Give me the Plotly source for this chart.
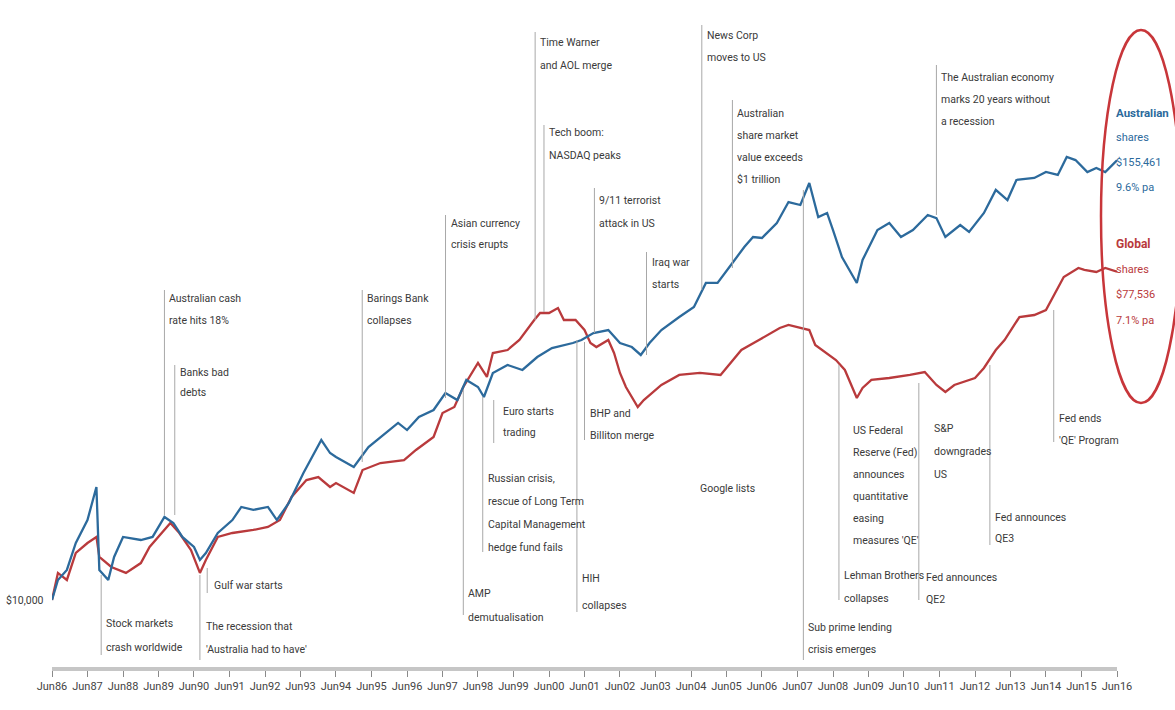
import plotly.graph_objects as go

# Growth of $10,000 (log scale), Australian vs global shares
aus_dates = [
    "1986-06", "1986-08", "1986-11", "1987-02", "1987-06", "1987-09", "1987-10", "1988-01",
    "1988-03", "1988-06", "1988-12", "1989-04", "1989-08", "1989-11", "1990-02", "1990-06",
    "1990-08", "1990-10", "1991-02", "1991-07", "1991-10", "1992-02", "1992-07", "1992-10",
    "1993-02", "1993-07", "1994-01", "1994-04", "1994-06", "1994-12", "1995-05", "1995-11",
    "1996-03", "1996-06", "1996-10", "1997-03", "1997-07", "1997-11", "1998-02", "1998-06",
    "1998-08", "1998-11", "1999-04", "1999-09", "2000-02", "2000-07", "2001-02", "2001-05",
    "2001-09", "2002-02", "2002-06", "2002-10", "2003-01", "2003-04", "2003-08", "2004-02",
    "2004-07", "2004-11", "2005-03", "2005-08", "2005-12", "2006-03", "2006-06", "2006-11",
    "2007-03", "2007-07", "2007-10", "2008-01", "2008-04", "2008-06", "2008-09", "2009-02",
    "2009-04", "2009-09", "2010-01", "2010-05", "2010-09", "2011-02", "2011-05", "2011-08",
    "2012-01", "2012-04", "2012-09", "2013-01", "2013-05", "2013-08", "2014-02", "2014-06",
    "2014-10", "2015-01", "2015-04", "2015-08", "2015-11", "2016-02", "2016-06",
]
aus_values = [
    10000, 11330, 12060, 14270, 16470, 20240, 12060, 11330,
    13080, 14820, 14540, 14820, 16790, 16170, 14820, 13920,
    12840, 13410, 15190, 16470, 17870, 17540, 17870, 16470,
    18320, 22090, 27140, 25020, 24400, 22940, 25980, 28360,
    30180, 28880, 31330, 32730, 36390, 34830, 39470, 37780,
    35490, 41230, 43340, 42010, 45550, 48180, 49710, 50650,
    52910, 53910, 49710, 48480, 46130, 49710, 53910, 58460,
    62230, 72310, 72310, 81900, 90500, 96320, 95720, 105100,
    119800, 117600, 134900, 109100, 111900, 100600, 85020, 72310,
    83450, 100600, 105100, 96320, 100600, 110500, 108400, 96320,
    103800, 99380, 111900, 129200, 121300, 137500, 139200, 144500,
    141900, 158700, 155700, 144500, 148200, 144500, 155461,
]

glob_dates = [
    "1986-06", "1986-08", "1986-11", "1987-02", "1987-06", "1987-09", "1987-10", "1988-02",
    "1988-07", "1988-12", "1989-03", "1989-06", "1989-10", "1990-01", "1990-05", "1990-08",
    "1990-10", "1991-02", "1991-07", "1992-02", "1992-07", "1992-11", "1993-03", "1993-08",
    "1993-12", "1994-04", "1994-06", "1994-12", "1995-03", "1995-09", "1996-05", "1996-09",
    "1997-03", "1997-06", "1997-10", "1998-01", "1998-06", "1998-09", "1998-11", "1999-04",
    "1999-08", "2000-01", "2000-03", "2000-06", "2000-09", "2000-11", "2001-03", "2001-06",
    "2001-08", "2001-10", "2002-02", "2002-04", "2002-06", "2002-08", "2002-12", "2003-02",
    "2003-08", "2004-02", "2004-09", "2005-04", "2005-11", "2006-05", "2006-12", "2007-03",
    "2007-10", "2007-12", "2008-07", "2008-10", "2009-02", "2009-04", "2009-07", "2010-01",
    "2010-08", "2011-01", "2011-05", "2011-08", "2011-11", "2012-06", "2012-09", "2013-01",
    "2013-04", "2013-09", "2014-02", "2014-06", "2014-12", "2015-05", "2015-07", "2015-11",
    "2016-02", "2016-06",
]
glob_values = [
    10000, 11840, 11330, 13410, 14270, 14820, 13080, 12290,
    11840, 12590, 13920, 14820, 16170, 15190, 13660, 11840,
    12840, 14820, 15190, 15480, 15770, 16470, 19020, 21140,
    21540, 20240, 20750, 19500, 22500, 23510, 23950, 25500,
    27650, 32120, 33340, 37780, 43880, 40210, 46700, 47580,
    50650, 57380, 59950, 59950, 61840, 57380, 57380, 53910,
    49710, 48480, 50650, 46700, 41230, 37780, 33340, 34830,
    38250, 40720, 41230, 40720, 47580, 50650, 54590, 55630,
    53910, 49090, 44700, 42010, 35270, 37540, 39470, 39960,
    40720, 41480, 38250, 36610, 38250, 39960, 42540, 47580,
    50650, 58460, 59200, 61070, 75060, 79400, 78420, 77440,
    79400, 77536,
]

tick_dates = [f"{y}-06-01" for y in range(1986, 2017)]
tick_labels = [
    "Jun86", "Jun87", "Jun88", "Jun89", "Jun90", "Jun91", "Jun92", "Jun93", "Jun94", "Jun95",
    "Jun96", "Jun97", "Jun98", "Jun99", "Jun00", "Jun01", "Jun02", "Jun03", "Jun04", "Jun05",
    "Jun06", "Jun07", "Jun08", "Jun09", "Jun10", "Jun11", "Jun12", "Jun13", "Jun14", "Jun15",
    "Jun16",
]

# Market events: date, label lines
events = [
    ("1987-10-20", ["Stock markets", "crash worldwide"]),
    ("1989-08-01", ["Australian cash", "rate hits 18%"]),
    ("1989-11-15", ["Banks bad", "debts"]),
    ("1990-10-15", ["Gulf war starts"]),
    ("1990-08-01", ["The recession that", "'Australia had to have'"]),
    ("1995-02-26", ["Barings Bank", "collapses"]),
    ("1997-07-02", ["Asian currency", "crisis erupts"]),
    ("1998-01-01", ["AMP", "demutualisation"]),
    ("1998-07-20", ["Russian crisis,", "rescue of Long Term", "Capital Management", "hedge fund fails"]),
    ("1998-11-10", ["Euro starts", "trading"]),
    ("2000-01-10", ["Time Warner", "and AOL merge"]),
    ("2000-04-10", ["Tech boom:", "NASDAQ peaks"]),
    ("2001-03-15", ["HIH", "collapses"]),
    ("2001-06-01", ["BHP and", "Billiton merge"]),
    ("2001-09-11", ["9/11 terrorist", "attack in US"]),
    ("2003-03-01", ["Iraq war", "starts"]),
    ("2004-09-20", ["News Corp", "moves to US"]),
    ("2005-08-01", ["Australian", "share market", "value exceeds", "$1 trillion"]),
    ("2007-08-01", ["Sub prime lending", "crisis emerges"]),
    ("2008-08-01", ["Lehman Brothers", "collapses"]),
    ("2008-08-01", ["US Federal", "Reserve (Fed)", "announces", "quantitative", "easing", "measures 'QE'"]),
    ("2010-11-01", ["Fed announces", "QE2"]),
    ("2010-11-01", ["S&P", "downgrades", "US"]),
    ("2011-05-01", ["The Australian economy", "marks 20 years without", "a recession"]),
    ("2012-11-01", ["Fed announces", "QE3"]),
    ("2014-08-20", ["Fed ends", "'QE' Program"]),
]
google_label = "Google lists"
google_date = "2004-08-19"

# Placement (pixels): leader top/bottom, text x offset, first line y, line step
placement = [
    (575, 655, 3, 623, 24),
    (290, 515, 3, 298, 22),
    (365, 515, 3, 372, 20),
    (568, 593, 5, 585, 22),
    (575, 660, 4, 626, 23),
    (290, 462, 3, 298, 22),
    (215, 398, 3, 223, 21),
    (390, 615, 3, 593, 24),
    (397, 552, 3, 478, 23),
    (400, 443, 7, 411, 21),
    (32, 320, 3, 42, 23),
    (125, 312, 3, 132, 23),
    (340, 612, 3, 578, 27),
    (342, 440, 3, 413, 22),
    (188, 333, 3, 200, 23),
    (252, 355, 3, 262, 22),
    (25, 290, 3, 35, 22),
    (100, 268, 3, 113, 22),
    (190, 660, 3, 627, 22),
    (365, 600, 3, 575, 23),
    (None, None, 12, 430, 22),
    (383, 600, 5, 577, 22),
    (None, None, 13, 428, 23),
    (65, 215, 3, 77, 22),
    (365, 545, 3, 517, 21),
    (310, 442, 3, 418, 22),
]

L, R, T, B = 52, 58, 10, 43
W, H = 1175, 710
plot_h = H - T - B
plot_w = W - L - R


def py(pix):
    return (H - B - pix) / plot_h


def px(pix):
    return (pix - L) / plot_w


FONT = "Roboto, Liberation Sans, sans-serif"
TEXT_COL = "#3a3a3a"
BLUE = "#2c6a9c"
RED = "#b93a3c"
LABEL_SIZE = 10.5

fig = go.Figure()
fig.add_trace(go.Scatter(x=glob_dates, y=glob_values, mode="lines",
                         line=dict(color=RED, width=2.3), name="Global shares"))
fig.add_trace(go.Scatter(x=aus_dates, y=aus_values, mode="lines",
                         line=dict(color=BLUE, width=2.3), name="Australian shares"))

shapes = []
annotations = []
for (date, lines), (top, bot, dx, y0, step) in zip(events, placement):
    if top is not None:
        shapes.append(dict(type="line", xref="x", yref="paper", x0=date, x1=date,
                           y0=py(bot), y1=py(top), line=dict(color="#a8a8a8", width=1)))
    for i, txt in enumerate(lines):
        annotations.append(dict(x=date, xref="x", y=py(y0 + i * step), yref="paper",
                                text=txt, showarrow=False, xanchor="left", yanchor="middle",
                                xshift=dx, font=dict(family=FONT, size=LABEL_SIZE, color=TEXT_COL)))

annotations.append(dict(x=google_date, xref="x", y=py(488), yref="paper", text=google_label,
                        showarrow=False, xanchor="left", yanchor="middle", xshift=-1,
                        font=dict(family=FONT, size=LABEL_SIZE, color=TEXT_COL)))

annotations.append(dict(x=aus_dates[0], xref="x", y=py(600), yref="paper", text="$10,000",
                        showarrow=False, xanchor="right", yanchor="middle", xshift=-6,
                        font=dict(family=FONT, size=LABEL_SIZE, color=TEXT_COL)))

# Final values ringed at the right edge
end_labels = [
    ("Australian", 113, 11.5, BLUE, True),
    ("shares", 137, 11, BLUE, False),
    (f"${aus_values[-1]:,}", 162, 11, BLUE, False),
    ("9.6% pa", 187, 11, BLUE, False),
    ("Global", 244, 12, RED, True),
    ("shares", 269, 11, RED, False),
    (f"${glob_values[-1]:,}", 294, 11, RED, False),
    ("7.1% pa", 320, 11, RED, False),
]
for txt, ypix, size, col, bold in end_labels:
    annotations.append(dict(x=px(1114), xref="paper", y=py(ypix), yref="paper",
                            text=f"<b>{txt}</b>" if bold else txt, showarrow=False,
                            xanchor="left", yanchor="middle",
                            font=dict(family=FONT, size=size, color=col)))

shapes.append(dict(type="circle", xref="paper", yref="paper",
                   x0=px(1101), x1=px(1181), y0=py(403), y1=py(30),
                   line=dict(color="#c8363a", width=2.5)))

fig.update_layout(
    width=W, height=H,
    margin=dict(l=L, r=R, t=T, b=B),
    paper_bgcolor="white", plot_bgcolor="white",
    showlegend=False,
    shapes=shapes, annotations=annotations,
    xaxis=dict(
        type="date", range=["1986-06-01", "2016-06-01"],
        tickvals=tick_dates, ticktext=tick_labels,
        showgrid=False, zeroline=False,
        showline=True, linecolor="#c6c6c6", linewidth=4,
        ticks="outside", ticklen=6, tickcolor="#8a8a8a", tickwidth=1,
        tickfont=dict(family=FONT, size=11, color="#444444"),
    ),
    yaxis=dict(
        type="log", range=[3.8184, 5.5989],
        showgrid=False, zeroline=False, showline=False,
        showticklabels=False, ticks="",
    ),
)

fig.write_html("out.html")
